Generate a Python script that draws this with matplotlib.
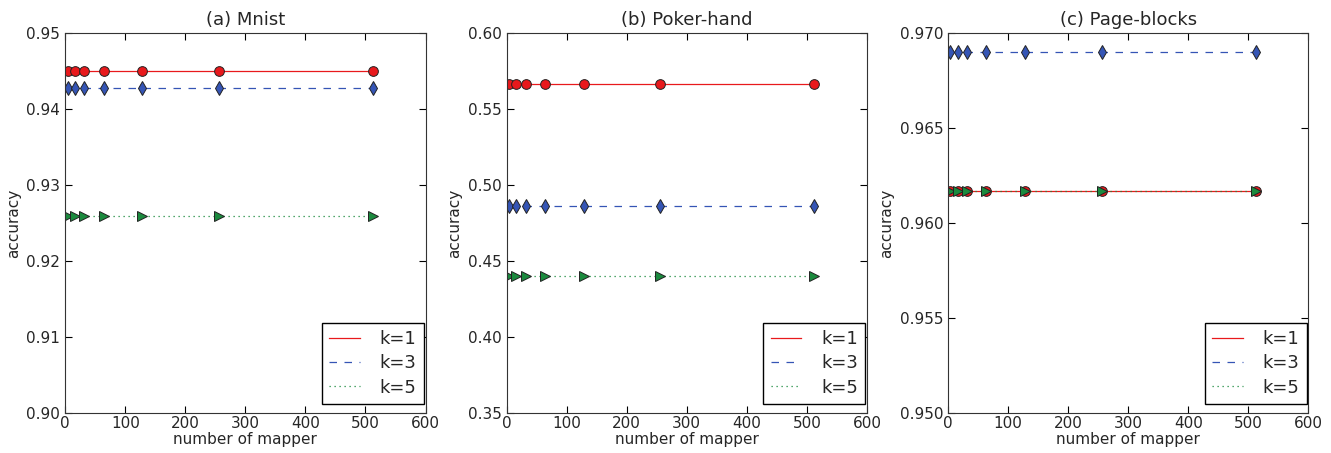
import matplotlib

matplotlib.use("Agg")
import matplotlib.pyplot as plt

mappers = [4, 16, 32, 64, 128, 256, 512]

titles = ["(a) Mnist", "(b) Poker-hand", "(c) Page-blocks"]
acc_k1 = [0.945, 0.5665, 0.9617]
acc_k3 = [0.9428, 0.486, 0.969]
acc_k5 = [0.926, 0.44, 0.9617]
ylims = [(0.90, 0.95), (0.35, 0.60), (0.950, 0.970)]
ytick_sets = [
    [0.90, 0.91, 0.92, 0.93, 0.94, 0.95],
    [0.35, 0.40, 0.45, 0.50, 0.55, 0.60],
    [0.950, 0.955, 0.960, 0.965, 0.970],
]
ytick_fmt = ["{:.2f}", "{:.2f}", "{:.3f}"]

RED = "#e8191c"
BLUE = "#3555b5"
GREEN = "#1b8a3e"
TEXT = "#262626"

plt.rcParams["xtick.direction"] = "in"
plt.rcParams["ytick.direction"] = "in"
plt.rcParams["xtick.top"] = True
plt.rcParams["ytick.right"] = True
plt.rcParams["text.color"] = TEXT
plt.rcParams["axes.labelcolor"] = TEXT
plt.rcParams["xtick.labelcolor"] = TEXT
plt.rcParams["ytick.labelcolor"] = TEXT

fig, axes = plt.subplots(1, 3, figsize=(13.31, 4.53), dpi=100)
fig.subplots_adjust(left=0.049, right=0.983, bottom=0.088, top=0.927, wspace=0.225)

series = [
    ("k=1", acc_k1, RED, "-", "o", 7),
    ("k=3", acc_k3, BLUE, (0, (6, 6)), "d", 7.5),
    ("k=5", acc_k5, GREEN, (0, (1, 3)), ">", 7),
]

for i, ax in enumerate(axes):
    for label, vals, color, ls, marker, ms in series:
        yv = [vals[i]] * len(mappers)
        ax.plot(mappers, yv, color=color, ls=ls, lw=0.9, label=label)
        ax.plot(mappers, yv, ls="none", marker=marker, ms=ms,
                mfc=color, mec="#222222", mew=0.7)
    ax.set_xlim(0, 600)
    ax.set_ylim(*ylims[i])
    ax.set_yticks(ytick_sets[i])
    ax.set_yticklabels([ytick_fmt[i].format(v) for v in ytick_sets[i]])
    ax.set_xticks([0, 100, 200, 300, 400, 500, 600])
    ax.set_title(titles[i], fontsize=13)
    ax.set_xlabel("number of mapper", fontsize=11, labelpad=1)
    ax.set_ylabel("accuracy", fontsize=11)
    ax.tick_params(labelsize=11, length=5)
    ax.tick_params(axis="x", pad=2)
    for sp in ax.spines.values():
        sp.set_color("#333333")
    leg = ax.legend(loc="lower right", bbox_to_anchor=(1.0, 0.02), borderaxespad=0.1,
                    fontsize=13, fancybox=False, framealpha=1, edgecolor="black",
                    handlelength=1.7, handletextpad=1.1, labelspacing=0.35,
                    borderpad=0.4)
    leg.get_frame().set_linewidth(1.0)

fig.savefig("out.png", dpi=100, facecolor="white")
